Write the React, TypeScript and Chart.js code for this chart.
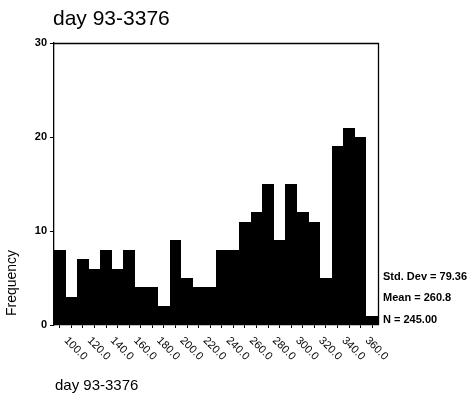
import React, { useEffect, useRef } from "react";
import { Chart, registerables } from "chart.js";

Chart.register(...registerables);

// Histogram bins (centre of each 10-unit bin) and their counts
const binCenters = [100, 110, 120, 130, 140, 150, 160, 170, 180, 190, 200, 210, 220, 230, 240, 250, 260, 270, 280, 290, 300, 310, 320, 330, 340, 350, 360, 370];
const frequencies = [8, 3, 7, 6, 8, 6, 8, 4, 4, 2, 9, 5, 4, 4, 8, 8, 11, 12, 15, 9, 15, 12, 11, 5, 19, 21, 20, 1];
const xTickLabels = [100, 120, 140, 160, 180, 200, 220, 240, 260, 280, 300, 320, 340, 360];
const yTicks = [0, 10, 20, 30];

const chartTitle = "day 93-3376";
const variableLabel = "day 93-3376";
const yAxisLabel = "Frequency";
const statLines = ["Std. Dev = 79.36", "Mean = 260.8", "N = 245.00"];

const FAMILY = '"Liberation Sans", Arial, Helvetica, sans-serif';

// Snap each bar's left/right edge to whole device pixels so neighbouring bins
// share an edge exactly instead of leaving an anti-aliased seam.
const snapBars = {
  id: "snapBars",
  afterDatasetsUpdate(chart: any) {
    const meta = chart.getDatasetMeta(0);
    meta.data.forEach((bar: any) => {
      const l = Math.round(bar.x - bar.width / 2);
      const r = Math.round(bar.x + bar.width / 2);
      bar.x = (l + r) / 2;
      bar.width = r - l;
      bar.y = Math.round(bar.y);
      bar.base = Math.round(bar.base);
    });
  },
};

const decorations = {
  id: "decorations",
  afterDraw(chart: any) {
    const { ctx, chartArea, scales } = chart;
    const { left, right, top, bottom } = chartArea;
    const x = scales.x;
    ctx.save();

    // top and right edges of the plot frame
    ctx.strokeStyle = "#000";
    ctx.lineWidth = 1.3;
    ctx.beginPath();
    ctx.moveTo(left, top + 0.5);
    ctx.lineTo(right + 0.5, top + 0.5);
    ctx.lineTo(right + 0.5, bottom);
    ctx.stroke();

    // slanted bin labels under the x axis
    ctx.fillStyle = "#000";
    ctx.font = `11px ${FAMILY}`;
    ctx.textAlign = "left";
    ctx.textBaseline = "alphabetic";
    xTickLabels.forEach((v) => {
      const idx = binCenters.indexOf(v);
      const px = x.getPixelForValue(idx);
      ctx.save();
      ctx.translate(px + 4, bottom + 16);
      ctx.rotate(Math.PI / 4);
      ctx.fillText(v.toFixed(1), 0, 0);
      ctx.restore();
    });

    // chart title
    ctx.font = `21px ${FAMILY}`;
    ctx.textBaseline = "alphabetic";
    ctx.fillText(chartTitle, 53, 25);

    // variable label under the axis
    ctx.font = `15px ${FAMILY}`;
    ctx.textBaseline = "middle";
    ctx.fillText(variableLabel, 55, 386);

    // y axis title
    ctx.save();
    ctx.font = `14px ${FAMILY}`;
    ctx.translate(12, 283);
    ctx.rotate(-Math.PI / 2);
    ctx.textAlign = "center";
    ctx.textBaseline = "middle";
    ctx.fillText(yAxisLabel, 0, 0);
    ctx.restore();

    // summary statistics
    ctx.font = `bold 11px ${FAMILY}`;
    ctx.textAlign = "left";
    ctx.textBaseline = "middle";
    const statY = [277, 298, 320];
    statLines.forEach((s, i) => ctx.fillText(s, right + 5, statY[i]));

    ctx.restore();
  },
};

export default function App() {
  const canvasRef = useRef<HTMLCanvasElement | null>(null);

  useEffect(() => {
    document.body.style.margin = "0";
    const canvas = canvasRef.current;
    if (!canvas) return;
    const chart = new Chart(canvas, {
      type: "bar",
      data: {
        labels: binCenters.map((v) => v.toFixed(1)),
        datasets: [
          {
            data: frequencies,
            backgroundColor: "#000",
            borderWidth: 0,
            inflateAmount: 0,
            barPercentage: 1,
            categoryPercentage: 1,
          },
        ],
      },
      options: {
        animation: false,
        responsive: false,
        maintainAspectRatio: false,
        layout: { padding: { top: 43, right: 95, left: 0, bottom: 0 } },
        plugins: {
          legend: { display: false },
          tooltip: { enabled: false },
          title: { display: false },
        },
        scales: {
          x: {
            type: "category",
            offset: true,
            grid: {
              display: true,
              drawOnChartArea: false,
              drawTicks: true,
              tickLength: 3,
              offset: false,
              color: "#000",
              lineWidth: 1,
            },
            border: { display: true, color: "#000", width: 1.3 },
            ticks: { display: false },
            afterFit: (s: any) => {
              s.height = 77;
            },
          },
          y: {
            min: 0,
            max: 30,
            afterBuildTicks: (s: any) => {
              s.ticks = yTicks.map((v) => ({ value: v }));
            },
            grid: { drawOnChartArea: false, tickLength: 4, color: "#000", lineWidth: 1 },
            border: { display: true, color: "#000", width: 1.3 },
            ticks: {
              font: { family: FAMILY, size: 11, weight: "bold" },
              color: "#000",
              padding: 3,
            },
            afterFit: (s: any) => {
              s.width = 54;
            },
          },
        },
      },
      plugins: [snapBars, decorations],
    } as any);
    return () => chart.destroy();
  }, []);

  return (
    <div style={{ position: "absolute", left: 0, top: 0, width: 473, height: 402, background: "#fff" }}>
      <canvas ref={canvasRef} width={473} height={402} style={{ display: "block" }} />
    </div>
  );
}
